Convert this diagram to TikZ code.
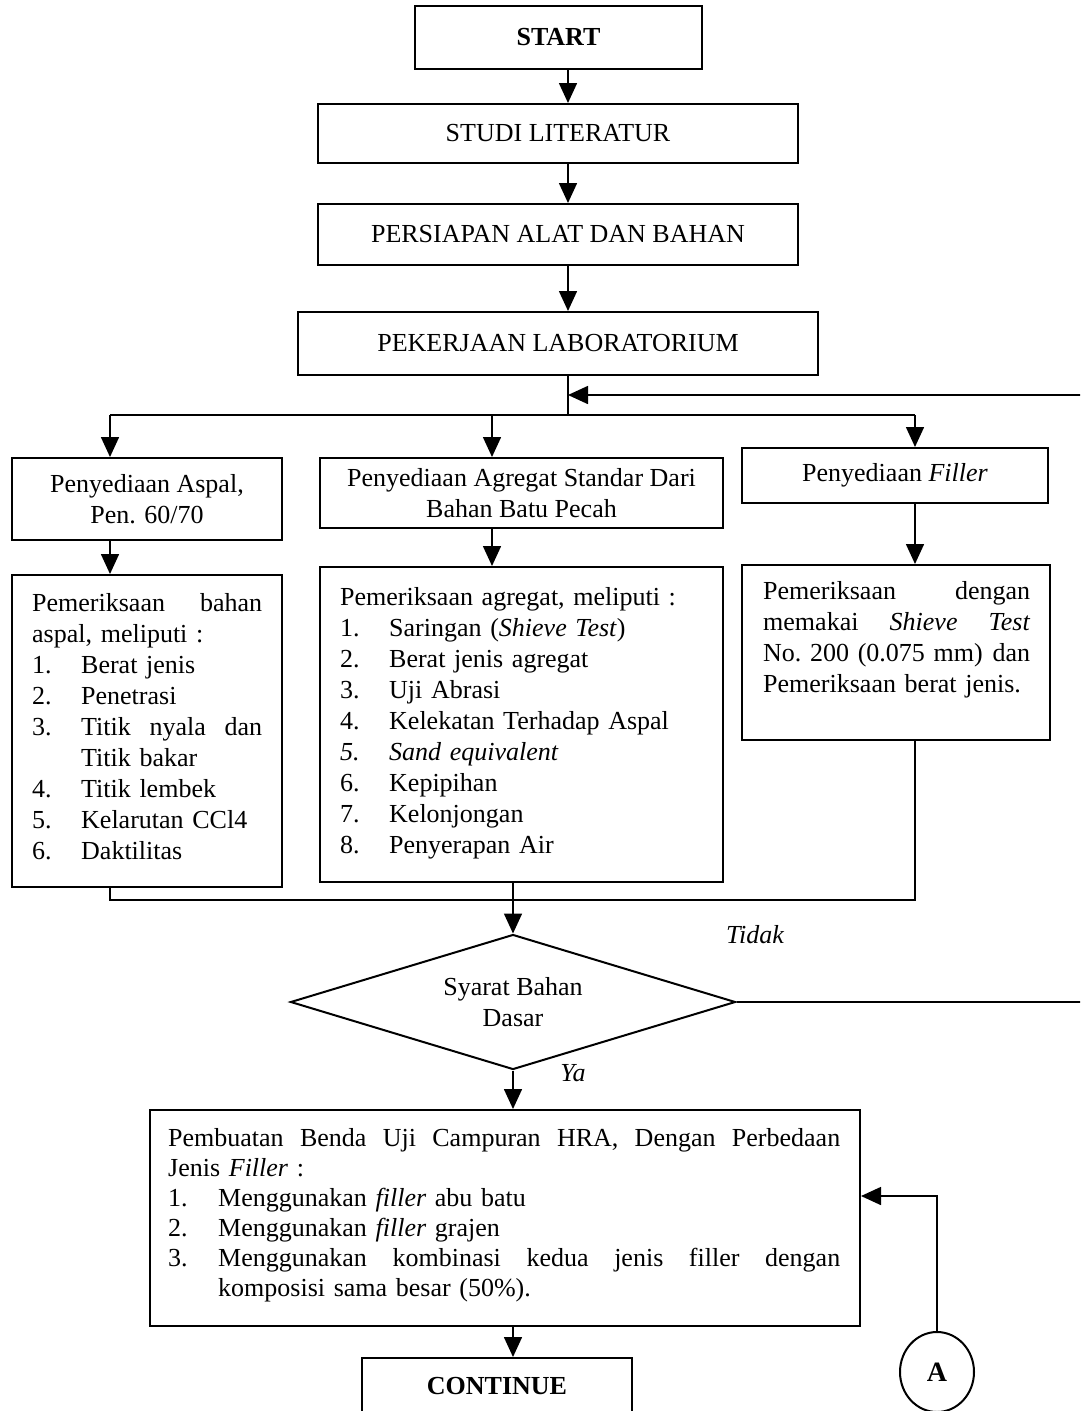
\documentclass[tikz,border=0pt]{standalone}
\usepackage{fontspec}
\setmainfont{Liberation Serif}
\usetikzlibrary{arrows.meta,shapes.geometric}
\newcommand\numit[2]{\makebox[49pt][l]{#1}#2}
\newcommand\numwide[2]{\makebox[50pt][l]{#1}#2}
\begin{document}
\begin{tikzpicture}[x=1pt,y=-1pt,
  every node/.style={font=\fontsize{26}{31}\selectfont},
  box/.style={draw, line width=2pt, inner sep=0pt, align=center},
  txt/.style={inner sep=0pt, anchor=north west, align=left},
  line/.style={line width=1.6pt},
  arr/.style={line width=1.6pt, -{Triangle[length=20pt,width=18pt]}},
  bold/.style={font=\bfseries\fontsize{26}{31}\selectfont},
  ital/.style={font=\itshape\fontsize{26}{31}\selectfont}
]
\useasboundingbox (0,0) rectangle (1080,1411);
\clip (0,0) rectangle (1080,1411);

% top chain
\node[box, bold, minimum width=287pt, minimum height=63pt] (start) at (558.5,37.5) {START};
\node[box, minimum width=480pt, minimum height=59pt] (studi) at (558,133.5) {STUDI LITERATUR};
\node[box, minimum width=480pt, minimum height=61pt] (persiapan) at (558,234.5) {PERSIAPAN ALAT DAN BAHAN};
\node[box, minimum width=520pt, minimum height=63pt] (lab) at (558,343.5) {PEKERJAAN LABORATORIUM};

\coordinate (spine) at (568,0);
\coordinate (split) at (568,415);
\coordinate (back) at (568,395);
\coordinate (colA) at (110,415);
\coordinate (colB) at (492,415);
\coordinate (colC) at (915,415);
\coordinate (colD) at (513,900);
\coordinate (fbR) at (1095,0);

\draw[arr] (start.south -| spine) -- (studi.north -| spine);
\draw[arr] (studi.south -| spine) -- (persiapan.north -| spine);
\draw[arr] (persiapan.south -| spine) -- (lab.north -| spine);
\draw[line] (lab.south -| spine) -- (split);
\draw[line] (colA) -- (colC);

% preparation boxes
\node[box, minimum width=270pt, minimum height=82pt] (aspal) at (147,499) {Penyediaan Aspal,\\Pen. 60/70};
\node[box, minimum width=403pt, minimum height=70pt] (agregat) at (521.5,493) {Penyediaan Agregat Standar Dari\\Bahan Batu Pecah};
\node[box, minimum width=306pt, minimum height=55pt] (filler) at (895,475.5) {Penyediaan \textit{Filler}};

\draw[arr] (colA) -- (aspal.north -| colA);
\draw[arr] (colB) -- (agregat.north -| colB);
\draw[arr] (colC) -- (filler.north -| colC);

% check boxes
\node[box, minimum width=270pt, minimum height=312pt] (aspalchk) at (147,731) {};
\node[box, minimum width=403pt, minimum height=315pt] (agrchk) at (521.5,724.5) {};
\node[box, minimum width=308pt, minimum height=175pt] (filchk) at (896,652.5) {};

\node[txt, text width=230pt] (aspalchkT) at (32,593) {%
Pemeriksaan\hfill bahan\\
aspal, meliputi :\\
\numit{1.}{Berat jenis}\\
\numit{2.}{Penetrasi}\\
\numit{3.}{Titik\hfill nyala\hfill dan}\\
\hspace*{49pt}Titik bakar\\
\numit{4.}{Titik lembek}\\
\numit{5.}{Kelarutan CCl4}\\
\numit{6.}{Daktilitas}};

\node[txt, text width=365pt] (agrchkT) at (340,587) {%
Pemeriksaan agregat, meliputi :\\
\numit{1.}{Saringan (\textit{Shieve Test})}\\
\numit{2.}{Berat jenis agregat}\\
\numit{3.}{Uji Abrasi}\\
\numit{4.}{Kelekatan Terhadap Aspal}\\
\textit{\numit{5.}{Sand equivalent}}\\
\numit{6.}{Kepipihan}\\
\numit{7.}{Kelonjongan}\\
\numit{8.}{Penyerapan Air}};

\node[txt, text width=267pt] (filchkT) at (763,581) {%
Pemeriksaan\hfill dengan\\
memakai\hfill \textit{Shieve}\hfill \textit{Test}\\
No.~200 (0.075 mm)\hfill dan\\
Pemeriksaan berat jenis.};

\draw[arr] (aspal.south -| colA) -- (aspalchk.north -| colA);
\draw[arr] (agregat.south -| colB) -- (agrchk.north -| colB);
\draw[arr] (filler.south -| colC) -- (filchk.north -| colC);

% join
\draw[line] (aspalchk.south -| colA) -- (colA |- colD) -- (colC |- colD) -- (filchk.south -| colC);
\draw[line] (agrchk.south -| colD) -- (colD);

% decision
\node[draw, diamond, line width=2pt, minimum width=445pt, minimum height=135pt, inner sep=0pt, aspect=3.3, align=center] (dasar) at (513,1002) {Syarat Bahan\\Dasar};
\draw[arr] (colD) -- (dasar.north);
\node[ital] (tidak) at (755,935) {Tidak};
\node[ital] (ya) at (573,1073) {Ya};
\draw[arr] (dasar.east) -- (dasar.east -| fbR) -- (fbR |- back) -- (back);

% HRA box
\node[box, minimum width=710pt, minimum height=216pt] (hra) at (505,1218) {};
\node[txt, text width=672pt, font=\fontsize{26}{30}\selectfont] (hraT) at (168,1128) {%
Pembuatan\hfill Benda\hfill Uji\hfill Campuran\hfill HRA,\hfill Dengan\hfill Perbedaan\\
Jenis \textit{Filler} :\\
\numwide{1.}{Menggunakan \textit{filler} abu batu}\\
\numwide{2.}{Menggunakan \textit{filler} grajen}\\
\numwide{3.}{Menggunakan\hfill kombinasi\hfill kedua\hfill jenis\hfill filler\hfill dengan}\\
\hspace*{50pt}komposisi sama besar (50\%).};
\draw[arr] (dasar.south) -- (hra.north -| dasar.south);

% connector A
\node[draw, ellipse, line width=2pt, minimum width=74pt, minimum height=80pt, inner sep=0pt, font=\bfseries\fontsize{28}{31}\selectfont] (A) at (937,1372) {A};
\coordinate (entry) at (937,1196);
\draw[arr] (A.north) -- (entry) -- (hra.east |- entry);

% continue
\node[box, bold, minimum width=270pt, minimum height=56pt] (cont) at (497,1386) {CONTINUE};
\draw[arr] (hra.south -| dasar.south) -- (cont.north -| dasar.south);
\end{tikzpicture}
\end{document}
